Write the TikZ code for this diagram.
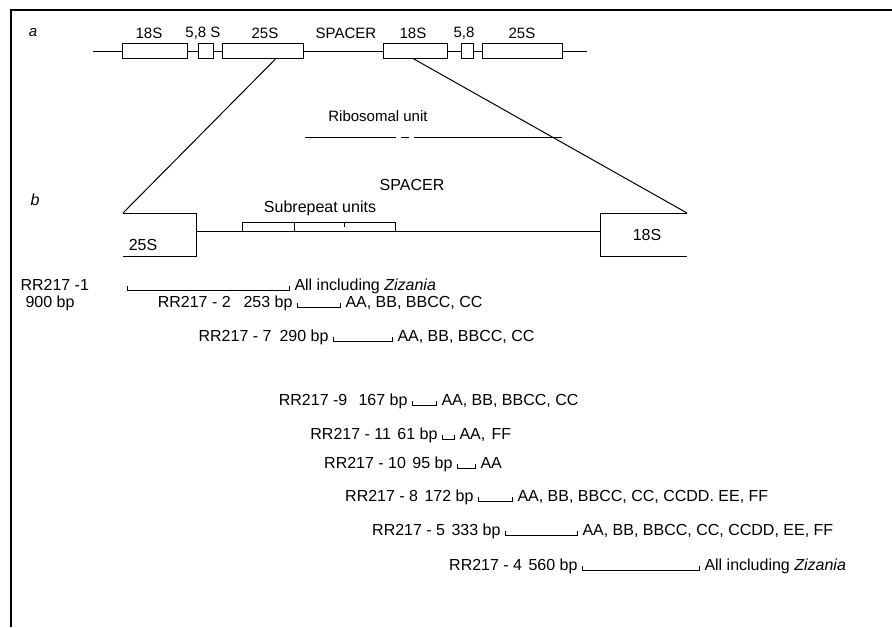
\documentclass[tikz,border=0pt]{standalone}
\usepackage{fontspec}
\setmainfont{Liberation Sans}
\begin{document}
\begin{tikzpicture}[x=1pt,y=-1pt,line width=1pt,
  lbl/.style={font=\fontsize{15}{17}\selectfont, inner sep=0pt},
  txt/.style={font=\fontsize{16}{18}\selectfont, inner sep=0pt},
  gene/.style={draw, minimum height=15pt, inner sep=0pt},
  brk/.style={line width=0.9pt},
]
\useasboundingbox (0,0) rectangle (892,627);
% frame
\coordinate (f0) at (11,10);
\coordinate (f1) at (892,10);
\coordinate (f2) at (11,627);
\draw[line width=1.5pt] (f1) -- (f0) -- (f2);

% ---------- part a ----------
\node[lbl,font=\fontsize{15}{17}\selectfont\itshape] (la) at (33,33) {a};
\node[lbl] (t1) at (149,33) {18S};
\node[lbl] (t2) at (203,33) {5,8 S};
\node[lbl] (t3) at (265,33) {25S};
\node[lbl] (t4) at (346,33) {SPACER};
\node[lbl] (t5) at (413,33) {18S};
\node[lbl] (t6) at (464,33) {5,8};
\node[lbl] (t7) at (522,33) {25S};

\coordinate (a0) at (93,51);
\coordinate (a1) at (587,51);
\node[gene,minimum width=65pt] (b1) at (154.5,51) {};
\node[gene,minimum width=15pt] (b2) at (205.5,51) {};
\node[gene,minimum width=81pt] (b3) at (262.5,51) {};
\node[gene,minimum width=64pt] (b4) at (415,51) {};
\node[gene,minimum width=12pt] (b5) at (467,51) {};
\node[gene,minimum width=80pt] (b6) at (522,51) {};
\draw (a0) -- (b1.west) (b1.east) -- (b2.west) (b2.east) -- (b3.west)
      (b3.east) -- (b4.west) (b4.east) -- (b5.west) (b5.east) -- (b6.west)
      (b6.east) -- (a1);

\node[lbl] (ru) at (378,116) {Ribosomal unit};
\coordinate (r0) at (305,137);
\coordinate (r1) at (396,137);
\coordinate (r2) at (401,137);
\coordinate (r3) at (409,137);
\coordinate (r4) at (414,137);
\coordinate (r5) at (562,137);
\draw (r0) -- (r1) (r2) -- (r3) (r4) -- (r5);

% ---------- part b ----------
\node[txt] (sp) at (412,185) {SPACER};
\node[txt,font=\fontsize{16}{18}\selectfont\itshape] (lb) at (35,200) {b};

\coordinate (k0) at (123,213);
\coordinate (k1) at (196,213);
\coordinate (k2) at (196,256);
\coordinate (k3) at (123,256);
\coordinate (ks) at (196,231);
\draw (k0) -- (k1) -- (k2) -- (k3);
\node[txt] (g25) at (143,245) {25S};

\coordinate (e0) at (687,213);
\coordinate (e1) at (600,213);
\coordinate (e2) at (600,256);
\coordinate (e3) at (687,256);
\coordinate (es) at (600,231);
\draw (e0) -- (e1) -- (e2) -- (e3);
\node[txt] (g18) at (647,235) {18S};

\draw (ks) -- (es);

% zoom diagonals
\coordinate (d1) at (276,58.5);
\coordinate (d2) at (413,58.5);
\draw (d1) -- (k0);
\draw (d2) -- (e0);

% subrepeat units
\coordinate (s0) at (242,231);
\coordinate (s1) at (242,222);
\coordinate (s2) at (395,222);
\coordinate (s3) at (395,231);
\coordinate (s4) at (294,222);
\coordinate (s5) at (294,231);
\coordinate (s6) at (344,222);
\coordinate (s7) at (344,227);
\draw (s0) -- (s1) -- (s2) -- (s3) (s4) -- (s5) (s6) -- (s7);
\node[txt] (su) at (320,208) {Subrepeat units};

% ---------- clones ----------
\newcommand{\clone}[6]{% name, y, x1, x2, left text, right text
  \coordinate (#1a) at (#3,#2-4);
  \coordinate (#1b) at (#3,#2);
  \coordinate (#1c) at (#4,#2);
  \coordinate (#1d) at (#4,#2-4);
  \draw[brk] (#1a) -- (#1b) -- (#1c) -- (#1d);
  \node[txt,anchor=base east] (#1l) at (#3-4,#2) {#5};
  \node[txt,anchor=base west] (#1r) at (#4+5,#2) {#6};
}
\clone{c1}{290}{127}{289}{}{All including \textit{Zizania}}
\node[txt,anchor=base west] (c1n) at (20,290) {RR217 -1};
\node[txt,anchor=base west] (c1p) at (25,307) {900 bp};
\clone{c2}{307}{297}{340}{RR217 - 2\hspace{0.8em}253 bp}{AA, BB, BBCC, CC}
\clone{c3}{341}{333}{392}{RR217 - 7\hspace{0.5em}290 bp}{AA, BB, BBCC, CC}
\clone{c4}{405}{412}{436}{RR217 -9\hspace{0.7em}167 bp}{AA, BB, BBCC, CC}
\clone{c5}{439}{442}{454}{RR217 - 11\hspace{0.4em}61 bp}{AA,\hspace{0.4em}FF}
\clone{c6}{468}{457}{475}{RR217 - 10\hspace{0.4em}95 bp}{AA}
\clone{c7}{501}{478}{512}{RR217 - 8\hspace{0.4em}172 bp}{AA, BB, BBCC, CC, CCDD. EE, FF}
\clone{c8}{535}{505}{577}{RR217 - 5\hspace{0.4em}333 bp}{AA, BB, BBCC, CC, CCDD, EE, FF}
\clone{c9}{570}{582}{699}{RR217 - 4\hspace{0.4em}560 bp}{All including \textit{Zizania}}
\end{tikzpicture}
\end{document}
